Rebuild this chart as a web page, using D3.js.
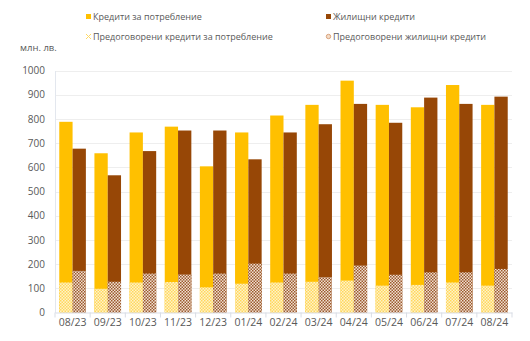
<!DOCTYPE html>
<html><head><meta charset="utf-8">
<script src="https://cdn.jsdelivr.net/npm/d3@7"></script>
<style>body{margin:0;background:#fff}svg{display:block}</style>
</head><body><svg id="c" width="530" height="341"></svg>
<script>
const categories = ["08/23","09/23","10/23","11/23","12/23","01/24","02/24","03/24","04/24","05/24","06/24","07/24","08/24"];
const consumer = [788,658,744,768,604,744,814,858,958,858,848,940,858];
const housing = [677,567,667,752,752,633,744,778,862,784,888,862,892];
const consumerReneg = [124,98,124,126,104,119,124,127,132,111,114,124,111];
const housingReneg = [172,127,161,157,161,202,161,146,194,156,166,166,180];
const yTicks = [0,100,200,300,400,500,600,700,800,900,1000];
const legendLabels = ["Кредити за потребление","Жилищни кредити","Предоговорени кредити за потребление","Предоговорени жилищни кредити"];

const svg = d3.select("#c");
const font = "'Open Sans', Calibri, sans-serif";
const m = {l:55, r:512, t:70.5, b:312.5};
const x = d3.scaleBand().domain(categories).range([m.l, m.r]).paddingInner(0).paddingOuter(0);
const y = d3.scaleLinear().domain([0,1000]).range([m.b, m.t]);
const bw = 13.3;

const defs = svg.append("defs");
function checker(id, bg, fg){
  const p = defs.append("pattern").attr("id",id).attr("patternUnits","userSpaceOnUse").attr("width",3).attr("height",3);
  p.append("rect").attr("width",3).attr("height",3).attr("fill",bg);
  p.append("rect").attr("x",0).attr("y",0).attr("width",1.5).attr("height",1.5).attr("fill",fg);
  p.append("rect").attr("x",1.5).attr("y",1.5).attr("width",1.5).attr("height",1.5).attr("fill",fg);
}
checker("pc","#FFF3C8","#FFD75E");
checker("ph","#F0E0D2","#9C5A2E");

// gridlines
svg.append("g").selectAll("line").data(yTicks.slice(1)).join("line")
  .attr("x1",m.l).attr("x2",m.r).attr("y1",d=>Math.round(y(d))+0.5).attr("y2",d=>Math.round(y(d))+0.5)
  .attr("stroke","#EEEEEE").attr("stroke-width",1);

// y axis
const ya = svg.append("g").attr("transform",`translate(${m.l},0)`).call(d3.axisLeft(y).tickValues(yTicks).tickFormat(d3.format("d")).tickSize(0).tickPadding(10));
ya.select(".domain").attr("stroke","#E3E7EE");
ya.selectAll("text").attr("font-family",font).attr("font-size",10).attr("fill","#595959");

// bars
const g = svg.append("g");
const cx = c => x(c) + x.bandwidth()/2;
g.selectAll(".bc").data(categories).join("rect").attr("x",(c)=>cx(c)-bw).attr("width",bw)
  .attr("y",(c,i)=>y(consumer[i])).attr("height",(c,i)=>y(0)-y(consumer[i])).attr("fill","#FFC000");
g.selectAll(".bh").data(categories).join("rect").attr("x",(c)=>cx(c)).attr("width",bw)
  .attr("y",(c,i)=>y(housing[i])).attr("height",(c,i)=>y(0)-y(housing[i])).attr("fill","#974706");
g.selectAll(".rc").data(categories).join("rect").attr("x",(c)=>cx(c)-bw).attr("width",bw)
  .attr("y",(c,i)=>y(consumerReneg[i])).attr("height",(c,i)=>y(0)-y(consumerReneg[i])).attr("fill","url(#pc)");
g.selectAll(".rh").data(categories).join("rect").attr("x",(c)=>cx(c)).attr("width",bw)
  .attr("y",(c,i)=>y(housingReneg[i])).attr("height",(c,i)=>y(0)-y(housingReneg[i])).attr("fill","url(#ph)");

// x axis
const xa = svg.append("g").attr("transform",`translate(0,${m.b})`).call(d3.axisBottom(x).tickSize(0).tickPadding(6));
xa.select(".domain").attr("stroke","#D9DDE5");
xa.selectAll("text").attr("font-family",font).attr("font-size",10.5).attr("fill","#595959");
xa.selectAll(".sep").data(d3.range(categories.length+1)).join("line")
  .attr("x1",i=>m.l + i*x.step()).attr("x2",i=>m.l + i*x.step()).attr("y1",0).attr("y2",5).attr("stroke","#D9DDE5");

// unit
svg.append("text").attr("x",20).attr("y",51).text("млн. лв.").attr("font-family",font).attr("font-size",9.5).attr("fill","#595959");

// legend
const leg = [
  {t:legendLabels[0], x:86, y:17, fill:"#FFC000", type:"sq"},
  {t:legendLabels[1], x:326, y:17, fill:"#974706", type:"sq"},
  {t:legendLabels[2], x:86, y:37, fill:"#FFD966", type:"x"},
  {t:legendLabels[3], x:326, y:37, fill:"#D9A27A", type:"o"}
];
const lg = svg.append("g");
leg.forEach(d=>{
  if(d.type==="sq") lg.append("rect").attr("x",d.x).attr("y",d.y-3).attr("width",5).attr("height",5).attr("fill",d.fill);
  else if(d.type==="x"){
    lg.append("path").attr("d",`M${d.x},${d.y-3}l5,5M${d.x+5},${d.y-3}l-5,5`).attr("stroke",d.fill).attr("stroke-width",1);
  } else {
    lg.append("circle").attr("cx",d.x+2.5).attr("cy",d.y-0.5).attr("r",2.2).attr("fill","#F3DCC8").attr("stroke",d.fill).attr("stroke-width",1);
  }
  lg.append("text").attr("x",d.x+7).attr("y",d.y+3).text(d.t).attr("font-family",font).attr("font-size",9).attr("fill","#595959");
});
</script></body></html>
